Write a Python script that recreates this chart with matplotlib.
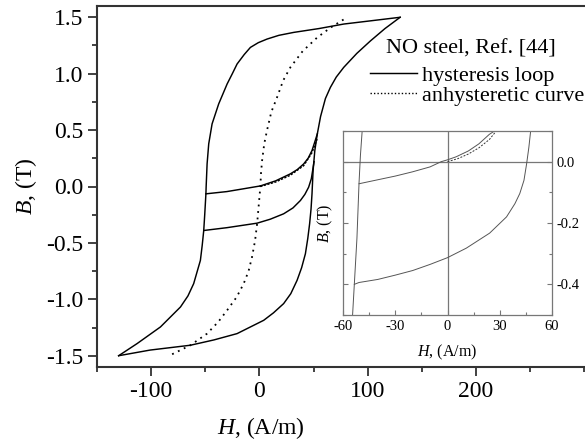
import matplotlib
matplotlib.use('Agg')
import matplotlib.pyplot as plt
from matplotlib.lines import Line2D
from matplotlib.ticker import MultipleLocator, FormatStrFormatter

plt.rcParams['font.family'] = ['Liberation Serif', 'DejaVu Serif']
plt.rcParams['mathtext.fontset'] = 'custom'
plt.rcParams['mathtext.rm'] = 'Liberation Serif'
plt.rcParams['mathtext.it'] = 'Liberation Serif:italic'
plt.rcParams['axes.unicode_minus'] = False

# --- main plot: hysteresis loop ---
h_desc = [130, 104, 77.9, 55, 31.7, 18, 7.1, -1, -8.3, -14, -20.6, -25, -29.8, -37.6,
          -43.7, -46.8, -48.3, -49.2, -49.4, -50.5, -51.4, -52.8, -54.5, -60.7, -66,
          -72.9, -91.4, -112.9, -130]
b_desc = [1.5, 1.47, 1.44, 1.40, 1.366, 1.34, 1.307, 1.275, 1.233, 1.17, 1.086, 1.0,
          0.909, 0.732, 0.555, 0.378, 0.201, -0.006, -0.065, -0.25, -0.389, -0.52, -0.655,
          -0.861, -0.97, -1.068, -1.245, -1.392, -1.5]

h_asc = [-130, -101, -63.7, -42, -20.6, 4, 13, 22.4, 29, 34.8, 39, 42.5, 44.7, 46.4,
         47.7, 48.6, 49.6, 51.2, 53.5, 56.5, 61, 65.6, 71, 77.9, 90, 102.5, 116, 130]
b_asc = [-1.5, -1.45, -1.407, -1.36, -1.304, -1.186, -1.12, -1.038, -0.95, -0.832,
         -0.72, -0.596, -0.46, -0.33, -0.2, -0.065, 0.142, 0.319, 0.466, 0.62, 0.78,
         0.879, 0.97, 1.056, 1.18, 1.29, 1.40, 1.5]

# minor loops starting from the descending branch
h_upper = [-49.4, -30, -14.5, 0.9, 15, 28.6, 35, 40.9, 45, 48.6, 51, 53.5]
b_upper = [-0.065, -0.045, -0.02, 0.005, 0.05, 0.112, 0.15, 0.2, 0.25, 0.319, 0.39,
           0.466]

h_lower = [-51.4, -30, -2.1, 10, 22.4, 31, 37.9, 42, 45.5, 48, 50.5]
b_lower = [-0.39, -0.365, -0.325, -0.29, -0.242, -0.19, -0.124, -0.07, -0.006, 0.07,
           0.22]

# anhysteretic curve
h_anh = [-80.6, -63.7, -48.3, -38, -29.8, -21, -14.5, -10, -6.8, -4, -2.1, 0.9, 1.5,
         2.5, 4.5, 7.1, 11, 16.3, 22, 28.6, 40, 53.3, 66, 79.4]
b_anh = [-1.487, -1.407, -1.304, -1.2, -1.097, -0.98, -0.861, -0.75, -0.625, -0.48,
         -0.33, 0.0, 0.12, 0.23, 0.38, 0.5, 0.66, 0.79, 0.94, 1.056, 1.2, 1.32, 1.41, 1.49]

h_anh_init = [0.9, 15, 28.6, 40.9, 48.6, 53.3]
b_anh_init = [0.0, 0.04, 0.1, 0.185, 0.3, 0.42]

# --- inset (zoom around origin) ---
ih_left = [-49, -50, -50.8, -52, -53.5, -54.5]
ib_left = [0.1, 0.02, -0.07, -0.25, -0.4, -0.5]

ih_upper = [-50.8, -40, -30, -20, -10, -3.6, 0, 5, 12, 18, 24, 27]
ib_upper = [-0.072, -0.059, -0.047, -0.033, -0.017, 0.0, 0.006, 0.016, 0.035, 0.058,
            0.089, 0.1]

ih_lower = [-53.5, -50.8, -40, -30, -20, -10, 0, 10.8, 24.2, 33.9, 38.7, 41.5, 43.9,
            45.4, 46.7, 47.7]
ib_lower = [-0.4, -0.394, -0.384, -0.37, -0.355, -0.335, -0.313, -0.282, -0.233, -0.18,
            -0.137, -0.104, -0.061, -0.008, 0.046, 0.098]

ih_anh = [0, 6, 12, 18, 24, 28]
ib_anh = [0.0, 0.01, 0.025, 0.045, 0.072, 0.1]

fig = plt.figure(figsize=(5.85, 4.41), dpi=100)
ax = fig.add_axes([97 / 585, 74 / 441, 498 / 585, 361 / 441])

line_kw = dict(color='black', lw=1.05)
dot_kw = dict(color='black', lw=1.3, linestyle=(0, (1, 2.6)))
ax.plot(h_desc, b_desc, **line_kw)
ax.plot(h_asc, b_asc, **line_kw)
ax.plot(h_upper, b_upper, **line_kw)
ax.plot(h_lower, b_lower, **line_kw)
ax.plot(h_anh, b_anh, **dot_kw)
ax.plot(h_anh_init, b_anh_init, color='black', lw=1.05, linestyle=(0, (1.5, 1)))

ax.set_xlim(-150, 310)
ax.set_ylim(-1.6, 1.6)
ax.set_xticks([-100, 0, 100, 200])
ax.xaxis.set_minor_locator(MultipleLocator(50))
ax.yaxis.set_major_locator(MultipleLocator(0.5))
ax.yaxis.set_minor_locator(MultipleLocator(0.25))
ax.yaxis.set_major_formatter(FormatStrFormatter('%.1f'))
ax.tick_params(which='major', direction='out', length=6.5, width=1.3, labelsize=17,
               color='#333333')
ax.tick_params(which='minor', direction='out', length=3.8, width=1.3, color='#333333')
for sp in ax.spines.values():
    sp.set_linewidth(1.5)
    sp.set_color('#333333')

ax.set_xlabel(r'$H$, (A/m)', fontsize=17)
ax.xaxis.set_label_coords((261 - 97) / 498, -0.133)
ax.set_ylabel(r'$B$, (T)', fontsize=17, labelpad=5)

# legend: title as text, entries as a legend
fig.text(471 / 585, 1 - 49 / 441, 'NO steel, Ref. [44]', ha='center', va='center',
         fontsize=16)
handles = [Line2D([], [], **line_kw),
           Line2D([], [], color='black', lw=1.0, linestyle=(0, (1, 1.5)))]
ax.legend(handles, ['hysteresis loop', 'anhysteretic curve'], loc='upper right',
          bbox_to_anchor=(0.999, 1 - 65 / 441), bbox_transform=fig.transFigure,
          frameon=False, fontsize=16, handlelength=2.1, handletextpad=0.25, borderpad=0,
          borderaxespad=0, labelspacing=-0.02)

# inset
ins = fig.add_axes([343 / 585, 126 / 441, 209 / 585, 184 / 441])
ins.set_facecolor('white')
gray = '#555555'
ins.axhline(0, color='#777777', lw=0.9)
ins.axvline(0, color='#777777', lw=0.9)
ins.plot(ih_left, ib_left, color=gray, lw=0.7)
ins.plot(ih_upper, ib_upper, color=gray, lw=0.7)
ins.plot(ih_lower, ib_lower, color=gray, lw=0.7)
ins.plot(ih_anh, ib_anh, color='#333333', lw=0.7, linestyle=(0, (2, 1.5)))
ins.set_xlim(-60, 60)
ins.set_ylim(-0.5, 0.1)
ins.xaxis.set_major_locator(MultipleLocator(30))
ins.xaxis.set_minor_locator(MultipleLocator(15))
ins.yaxis.set_major_locator(MultipleLocator(0.2))
ins.yaxis.set_minor_locator(MultipleLocator(0.1))
ins.yaxis.set_major_formatter(FormatStrFormatter('%.1f'))
ins.tick_params(which='both', direction='in', left=True, right=True, labelleft=False,
                labelright=True, labelsize=10.5, color='#777777', width=0.8)
ins.tick_params(which='major', length=3.5)
ins.tick_params(which='minor', length=2)
for sp in ins.spines.values():
    sp.set_linewidth(0.9)
    sp.set_color('#777777')
ins.set_xlabel(r'$H$, (A/m)', fontsize=11.5, labelpad=7)
ins.set_ylabel(r'$B$, (T)', fontsize=11.5, labelpad=6)

fig.savefig('out.png', dpi=100)
